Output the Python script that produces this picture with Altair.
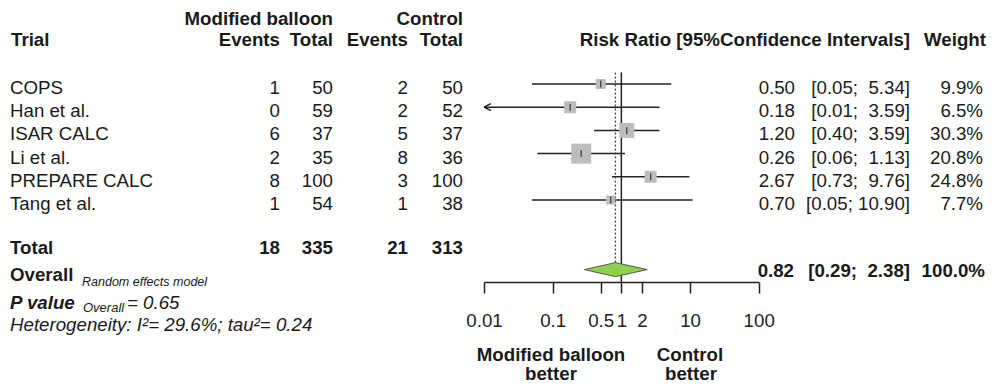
import altair as alt
import pandas as pd

# ---------------- data ----------------
trials = ["COPS", "Han et al.", "ISAR CALC", "Li et al.", "PREPARE CALC", "Tang et al."]
ev_mod = [1, 0, 6, 2, 8, 1]
n_mod = [50, 59, 37, 35, 100, 54]
ev_ctl = [2, 2, 5, 8, 3, 1]
n_ctl = [50, 52, 37, 36, 100, 38]
rr = [0.50, 0.18, 1.20, 0.26, 2.67, 0.70]
ci_lo = [0.05, 0.01, 0.40, 0.06, 0.73, 0.05]
ci_hi = [5.34, 3.59, 3.59, 1.13, 9.76, 10.90]
weight = [9.9, 6.5, 30.3, 20.8, 24.8, 7.7]
box_rel = [10, 12, 15, 20, 12, 9]          # relative box side as drawn

total_mod = [18, 335]
total_ctl = [21, 313]
overall = [0.82, 0.29, 2.38]               # estimate, lower, upper
overall_weight = 100.0
axis_ticks = [0.01, 0.1, 0.5, 1, 2, 10, 100]
p_value = 0.65
i2 = 29.6
tau2 = 0.24

# ---------------- layout / style ----------------
W, H = 979, 376
FONT = "Liberation Sans"
FS = 18.7
TXT = "#1a1a1a"
ROW0_PX, ROW_STEP = 76, 23.2
y_dom = [-ROW0_PX / ROW_STEP, (H - ROW0_PX) / ROW_STEP]
TOTAL_ROW = 6.9
OVERALL_ROW = 8.0
AXIS_PX = 274
AXIS_ROW = (AXIS_PX - ROW0_PX) / ROW_STEP
DIAM_HALF = 7 / ROW_STEP
TOP_ROW = -0.5
NB = "\u00a0"

x_scale = alt.Scale(type="log", domain=[0.01, 100], range=[476, 750.7])
y_scale = alt.Scale(domain=y_dom, reverse=True, nice=False, zero=False)
x_axis = alt.Axis(values=axis_ticks, labelExpr="'' + datum.value", title=None, grid=False,
                  tickSize=11, tickWidth=1.5, tickColor="#222", domainColor="#222",
                  domainWidth=1.5, labelFontSize=FS, labelFont=FONT, labelColor="#222",
                  labelPadding=18, labelOverlap=False, labelFlush=False,
                  offset=AXIS_PX - H)


def X(field):
    return alt.X(field, type="quantitative", scale=x_scale, axis=x_axis)


def Y(field):
    return alt.Y(field, type="quantitative", scale=y_scale, axis=None)


def ci_text(lo, hi):
    return ("[" + f"{lo:.2f}" + "; " + f"{hi:5.2f}" + "]").replace(" ", NB)


df = pd.DataFrame({
    "trial": trials, "ev_mod": ev_mod, "n_mod": n_mod, "ev_ctl": ev_ctl, "n_ctl": n_ctl,
    "rr": rr, "lo": ci_lo, "hi": ci_hi, "w": weight, "box": box_rel,
})
df["row"] = range(len(df))
df["rr_txt"] = [f"{v:.2f}" for v in rr]
df["ci_txt"] = [ci_text(a, b) for a, b in zip(ci_lo, ci_hi)]
df["w_txt"] = [f"{v:.1f}%" for v in weight]

base = alt.Chart(df)

ci_lines = base.mark_rule(color="#222", strokeWidth=1.5).encode(x=X("lo"), x2="hi", y=Y("row"))
boxes = base.transform_calculate(area="datum.box * datum.box").mark_square(
    color="#bdbdbd", opacity=1).encode(
    x=X("rr"), y=Y("row"), size=alt.Size("area:Q", scale=None, legend=None))
est_ticks = base.mark_tick(orient="vertical", color="#111", thickness=1.3, size=7).encode(
    x=X("rr"), y=Y("row"))
arrows = base.transform_filter("datum.lo <= 0.01").mark_point(
    shape="M0,0L2,-1M0,0L2,1", filled=False, stroke="#222", strokeWidth=1.5, size=49, opacity=1
).encode(x=X("lo"), y=Y("row"))

null_df = pd.DataFrame({"x": [1.0], "y": [TOP_ROW], "y2": [AXIS_ROW]})
null_line = alt.Chart(null_df).mark_rule(color="#222", strokeWidth=1.5).encode(
    x=X("x"), y=Y("y"), y2="y2")
ov_df = pd.DataFrame({"x": [overall[0]], "y": [TOP_ROW], "y2": [OVERALL_ROW - DIAM_HALF]})
ov_line = alt.Chart(ov_df).mark_rule(color="#444", strokeWidth=1.3, strokeDash=[2, 2]).encode(
    x=X("x"), y=Y("y"), y2="y2")

diam_df = pd.DataFrame({
    "x": [overall[1], overall[0], overall[2]],
    "ylo": [OVERALL_ROW, OVERALL_ROW - DIAM_HALF, OVERALL_ROW],
    "yhi": [OVERALL_ROW, OVERALL_ROW + DIAM_HALF, OVERALL_ROW],
})
diamond = alt.Chart(diam_df).mark_area(color="#8fd14f", stroke="#555", strokeWidth=1,
                                        opacity=1).encode(x=X("x"), y=Y("ylo"), y2="yhi")


def col_text(field, x, align="right", weight="normal", data=None, dy=4):
    src = base if data is None else alt.Chart(data)
    return src.mark_text(align=align, baseline="middle", dy=dy, fontSize=FS, font=FONT,
                         fontWeight=weight, color=TXT).encode(
        x=alt.value(x), y=Y("row"), text=f"{field}:N")


row_texts = [
    col_text("trial", 2, align="left"),
    col_text("ev_mod", 272), col_text("n_mod", 325),
    col_text("ev_ctl", 400), col_text("n_ctl", 455),
    col_text("rr_txt", 787), col_text("ci_txt", 902), col_text("w_txt", 975),
]

tot_df = pd.DataFrame({"row": [TOTAL_ROW], "lab": ["Total"],
                       "a": [str(total_mod[0])], "b": [str(total_mod[1])],
                       "c": [str(total_ctl[0])], "d": [str(total_ctl[1])]})
tot_texts = [
    col_text("lab", 2, align="left", weight="bold", data=tot_df),
    col_text("a", 272, weight="bold", data=tot_df), col_text("b", 325, weight="bold", data=tot_df),
    col_text("c", 400, weight="bold", data=tot_df), col_text("d", 455, weight="bold", data=tot_df),
]
ovr_df = pd.DataFrame({"row": [OVERALL_ROW], "lab": ["Overall"],
                       "e": [f"{overall[0]:.2f}"], "ci": [ci_text(overall[1], overall[2])],
                       "w": [f"{overall_weight:.1f}%"]})
ovr_texts = [
    col_text("lab", 2, align="left", weight="bold", data=ovr_df, dy=5),
    col_text("e", 786, weight="bold", data=ovr_df, dy=1),
    col_text("ci", 902, weight="bold", data=ovr_df, dy=1),
    col_text("w", 977, weight="bold", data=ovr_df, dy=1),
]


def txt(text, x, y, align="left", size=FS, weight="normal", style="normal"):
    return alt.Chart(pd.DataFrame({"t": [text]})).mark_text(
        align=align, baseline="middle", fontSize=size, fontWeight=weight, fontStyle=style,
        font=FONT, color=TXT).encode(x=alt.value(x), y=alt.value(y), text="t:N")


free_texts = [
    txt("Modified balloon", 325, 10.5, align="right", weight="bold"),
    txt("Control", 455, 10.5, align="right", weight="bold"),
    txt("Trial", 3, 32, weight="bold"),
    txt("Events", 272, 32, align="right", weight="bold"),
    txt("Total", 325, 32, align="right", weight="bold"),
    txt("Events", 400, 32, align="right", weight="bold"),
    txt("Total", 455, 32, align="right", weight="bold"),
    txt("Risk Ratio [95%Confidence Intervals]", 902, 32, align="right", weight="bold"),
    txt("Weight", 978, 32, align="right", weight="bold"),
    txt("Random effects model", 74, 274, size=12.5, style="italic"),
    txt("P value", 2, 295, weight="bold", style="italic"),
    txt("Overall", 75, 300, size=13, style="italic"),
    txt(f"= {p_value:.2f}", 119, 295, style="italic"),
    txt(f"Heterogeneity: I\u00b2= {i2:.1f}%; tau\u00b2= {tau2:.2f}", 2, 317, style="italic"),
    txt("Modified balloon", 543, 347, align="center", weight="bold"),
    txt("better", 543, 366, align="center", weight="bold"),
    txt("Control", 682, 347, align="center", weight="bold"),
    txt("better", 683, 366, align="center", weight="bold"),
]

chart = alt.layer(
    ci_lines, null_line, ov_line, boxes, est_ticks, arrows, diamond,
    *row_texts, *tot_texts, *ovr_texts, *free_texts,
).properties(
    width=W, height=H, padding=0, autosize=alt.AutoSizeParams(type="none"),
).configure_view(stroke=None)

chart.save("out.html", embed_options={"renderer": "svg", "actions": False})
